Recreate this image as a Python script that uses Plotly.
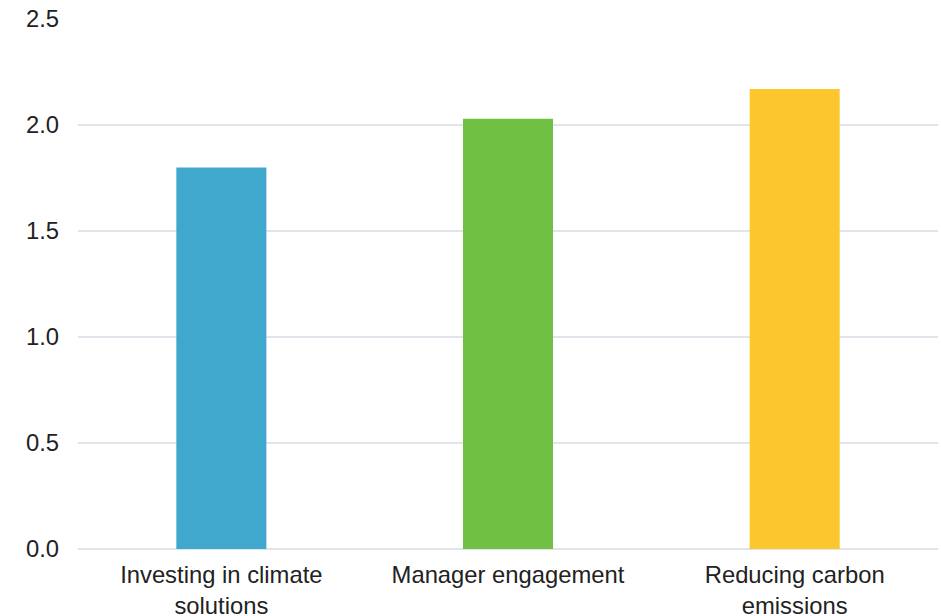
import plotly.graph_objects as go

# Chart data
categories = ["Investing in climate<br>solutions", "Manager engagement", "Reducing carbon<br>emissions"]
values = [1.80, 2.03, 2.17]
bar_colors = ["#40A8CC", "#70C143", "#FCC62F"]
y_tick_values = [0.0, 0.5, 1.0, 1.5, 2.0, 2.5]
y_tick_labels = ["0.0", "0.5", "1.0", "1.5", "2.0", "2.5"]

font_family = "Liberation Sans, Arial, sans-serif"
text_color = "#222222"
grid_color = "#E1E5EB"
font_size = 23.8

fig = go.Figure(
    go.Bar(
        x=categories,
        y=values,
        marker=dict(color=bar_colors, line=dict(width=0)),
        hoverinfo="x+y",
    )
)

fig.update_layout(
    width=941,
    height=616,
    margin=dict(l=78, r=3, t=19, b=67, autoexpand=False),
    paper_bgcolor="white",
    plot_bgcolor="white",
    bargap=0.686,
    showlegend=False,
    font=dict(family=font_family, size=font_size, color=text_color),
)

fig.update_xaxes(
    showgrid=False,
    showline=False,
    ticks="",
    automargin=False,
    ticklabelstandoff=9,
    tickfont=dict(size=font_size, color=text_color),
)

fig.update_yaxes(
    range=[0, 2.5],
    tickvals=y_tick_values,
    ticktext=y_tick_labels,
    showgrid=True,
    gridcolor=grid_color,
    gridwidth=2,
    zeroline=True,
    zerolinecolor=grid_color,
    zerolinewidth=2,
    showline=False,
    ticks="",
    automargin=False,
    ticklabelstandoff=18,
    tickfont=dict(size=font_size, color=text_color),
)

fig.write_html("out.html")
